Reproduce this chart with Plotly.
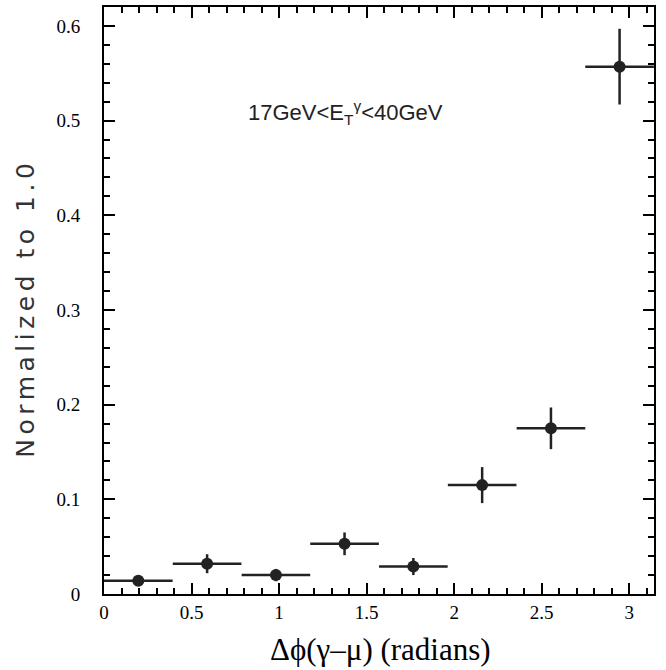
import plotly.graph_objects as go

# Bin centres (radians), half-widths, values, errors
x_centers = [0.196, 0.589, 0.982, 1.374, 1.767, 2.160, 2.553, 2.945]
x_halfwidth = [0.196, 0.196, 0.196, 0.196, 0.196, 0.196, 0.196, 0.196]
y_values = [0.014, 0.032, 0.020, 0.053, 0.029, 0.115, 0.175, 0.557]
y_errors = [0.003, 0.010, 0.0065, 0.012, 0.009, 0.019, 0.022, 0.040]

x_tickvals = [0, 0.5, 1, 1.5, 2, 2.5, 3]
x_ticktext = ["0", "0.5", "1", "1.5", "2", "2.5", "3"]
y_tickvals = [0, 0.1, 0.2, 0.3, 0.4, 0.5, 0.6]
y_ticktext = ["0", "0.1", "0.2", "0.3", "0.4", "0.5", "0.6"]

x_title = "Δϕ(γ–μ) (radians)"
y_title = "Normalized to 1.0"
label_text = "17GeV&lt;E<sub>T</sub><sup>γ</sup>&lt;40GeV"

ink = "#222222"
serif = "Liberation Serif, Times New Roman, serif"
tickfont = dict(family=serif, size=19, color="black")

fig = go.Figure()
fig.add_trace(go.Scatter(
    x=x_centers, y=y_values, mode="markers",
    marker=dict(color=ink, size=12, symbol="circle"),
    error_x=dict(type="data", array=x_halfwidth, visible=True, thickness=2.5, width=0, color=ink),
    error_y=dict(type="data", array=y_errors, visible=True, thickness=2.5, width=0, color=ink),
    showlegend=False, hoverinfo="skip",
))

fig.add_annotation(
    x=1.377, y=0.509, xref="x", yref="y",
    text=label_text, showarrow=False,
    font=dict(family="Liberation Sans", size=22, color=ink),
)

# Axis titles as annotations
fig.add_annotation(
    x=0.502, y=-0.0945, xref="paper", yref="paper", xanchor="center", yanchor="middle",
    text=x_title, showarrow=False,
    font=dict(family=serif, size=31, color="black"),
)
fig.add_annotation(
    x=-0.142, y=0.488, xref="paper", yref="paper", xanchor="center", yanchor="middle",
    text=y_title, showarrow=False, textangle=-90,
    font=dict(family="DejaVu Sans", size=25, color="#333333"),
)

fig.update_xaxes(
    range=[0, 3.1416], tickmode="array", tickvals=x_tickvals, ticktext=x_ticktext,
    minor=dict(dtick=0.1, ticks="inside", ticklen=6, tickwidth=2, tickcolor="black", showgrid=False),
    showline=True, linewidth=2, linecolor="black",
    mirror="allticks", ticks="inside", tickcolor="black",
    tickwidth=2, ticklen=11, showgrid=False, zeroline=False,
    tickfont=tickfont, automargin=False, ticklabelstandoff=0,
)
fig.update_yaxes(
    range=[0, 0.62], tickmode="array", tickvals=y_tickvals, ticktext=y_ticktext,
    minor=dict(dtick=0.02, ticks="inside", ticklen=6, tickwidth=2, tickcolor="black", showgrid=False),
    showline=True, linewidth=2, linecolor="black",
    mirror="allticks", ticks="inside", tickcolor="black",
    tickwidth=2, ticklen=11, showgrid=False, zeroline=False,
    tickfont=tickfont, automargin=False, ticklabelstandoff=18,
)

fig.update_layout(
    width=666, height=670,
    margin=dict(l=104, r=12, t=7, b=76),
    plot_bgcolor="white", paper_bgcolor="white",
)

post_js = """
document.body.style.margin = '0';
document.querySelectorAll('text').forEach(function (t) {
  if (t.textContent === 'Normalized to 1.0') { t.style.letterSpacing = '4.5px'; }
});
"""

fig.write_html("out.html", post_script=post_js, config={"displayModeBar": False})
